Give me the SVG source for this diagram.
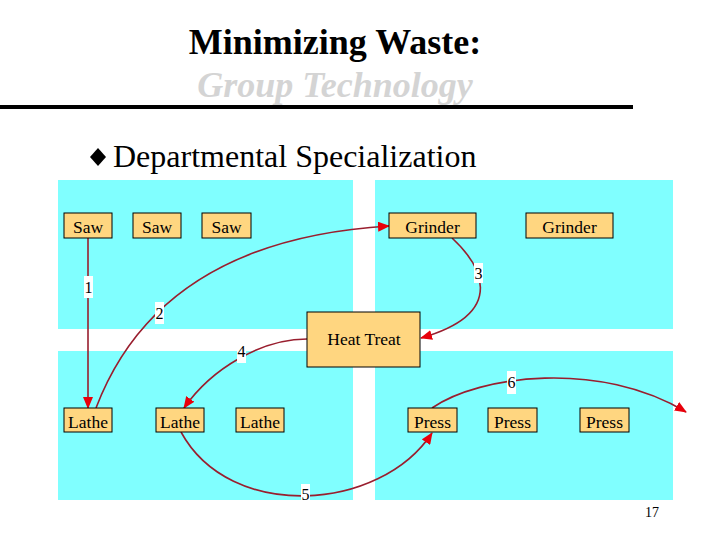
<svg xmlns="http://www.w3.org/2000/svg" width="720" height="540" viewBox="0 0 720 540">
<style>
.panel{fill:#80FFFF}
.node rect{fill:#FFD680;stroke:#000;stroke-width:1}
.node text{font-family:"Liberation Serif",serif;font-size:17.5px;text-anchor:middle;fill:#000}
.conn{fill:none;stroke:#991E2E;stroke-width:1.6}
.lbl rect{fill:#FFFFFF}
.lbl text{font-family:"Liberation Serif",serif;font-size:16px;text-anchor:middle;fill:#000}
</style>
<defs>
<marker id="arr" viewBox="0 0 12 10" refX="11" refY="5" markerWidth="12" markerHeight="10" markerUnits="userSpaceOnUse" orient="auto">
<path d="M0,0 L12,5 L0,10 Z" fill="#E8000B"/>
</marker>
</defs>
<rect width="720" height="540" fill="#FFFFFF"/>
<text x="335" y="54" font-family="Liberation Serif,serif" font-size="36" font-weight="bold" text-anchor="middle">Minimizing Waste:</text>
<text x="335" y="97" font-family="Liberation Serif,serif" font-size="36" font-weight="bold" font-style="italic" fill="#D4D4D4" text-anchor="middle">Group Technology</text>
<rect x="0" y="105" width="633" height="4" fill="#000"/>
<polygon points="98,148 106,157 98,166 90,157" fill="#000"/>
<text x="113" y="167" font-family="Liberation Serif,serif" font-size="32">Departmental Specialization</text>
<g id="panels">
<rect class="panel" x="58" y="180" width="295" height="149"/>
<rect class="panel" x="375" y="180" width="298" height="149"/>
<rect class="panel" x="58" y="351" width="295" height="149"/>
<rect class="panel" x="375" y="351" width="298" height="149"/>
</g>
<g id="connectors">
<path class="conn" d="M88,238 L88,408" stroke-width="1.2" marker-end="url(#arr)"/>
<path class="conn" d="M96,408 Q160,240 389,226" marker-end="url(#arr)"/>
<path class="conn" d="M452,238 C478,262 512,312 421,338" marker-end="url(#arr)"/>
<path class="conn" d="M307,339 C262,339 212,368 184,408" marker-end="url(#arr)"/>
<path class="conn" d="M181,432 C230,522 380,512 432,433" marker-end="url(#arr)"/>
<path class="conn" d="M432,408 C480,375 600,360 686,412" marker-end="url(#arr)"/>
</g>
<g id="saw1" class="node"><rect x="64" y="213" width="48" height="25"/><text x="88" y="233">Saw</text></g>
<g id="saw2" class="node"><rect x="133" y="213" width="48" height="25"/><text x="157" y="233">Saw</text></g>
<g id="saw3" class="node"><rect x="202" y="213" width="49" height="25"/><text x="226.5" y="233">Saw</text></g>
<g id="grinder1" class="node"><rect x="389" y="213" width="87" height="25"/><text x="432.5" y="233">Grinder</text></g>
<g id="grinder2" class="node"><rect x="526" y="213" width="87" height="25"/><text x="569.5" y="233">Grinder</text></g>
<g id="heattreat" class="node"><rect x="307" y="312" width="113" height="55"/><text x="364" y="345">Heat Treat</text></g>
<g id="lathe1" class="node"><rect x="64" y="408" width="48" height="24"/><text x="88" y="428">Lathe</text></g>
<g id="lathe2" class="node"><rect x="156" y="408" width="48" height="24"/><text x="180" y="428">Lathe</text></g>
<g id="lathe3" class="node"><rect x="236" y="408" width="48" height="24"/><text x="260" y="428">Lathe</text></g>
<g id="press1" class="node"><rect x="408" y="408" width="49" height="24"/><text x="432.5" y="428">Press</text></g>
<g id="press2" class="node"><rect x="488" y="408" width="49" height="24"/><text x="512.5" y="428">Press</text></g>
<g id="press3" class="node"><rect x="580" y="408" width="49" height="24"/><text x="604.5" y="428">Press</text></g>
<g id="labels">
<g class="lbl"><rect x="84" y="276" width="9" height="22"/><text x="88.5" y="293">1</text></g>
<g class="lbl"><rect x="155" y="302" width="9" height="22"/><text x="159.5" y="319">2</text></g>
<g class="lbl"><rect x="474" y="263" width="9" height="20"/><text x="478.5" y="279">3</text></g>
<g class="lbl"><rect x="237" y="343" width="9" height="20"/><text x="241.5" y="357">4</text></g>
<g class="lbl"><rect x="301" y="484" width="9" height="18"/><text x="305.5" y="500">5</text></g>
<g class="lbl"><rect x="507" y="371" width="9" height="23"/><text x="511.5" y="388">6</text></g>
</g>
<text x="652" y="517" font-family="Liberation Serif,serif" font-size="14" text-anchor="middle">17</text>
</svg>
